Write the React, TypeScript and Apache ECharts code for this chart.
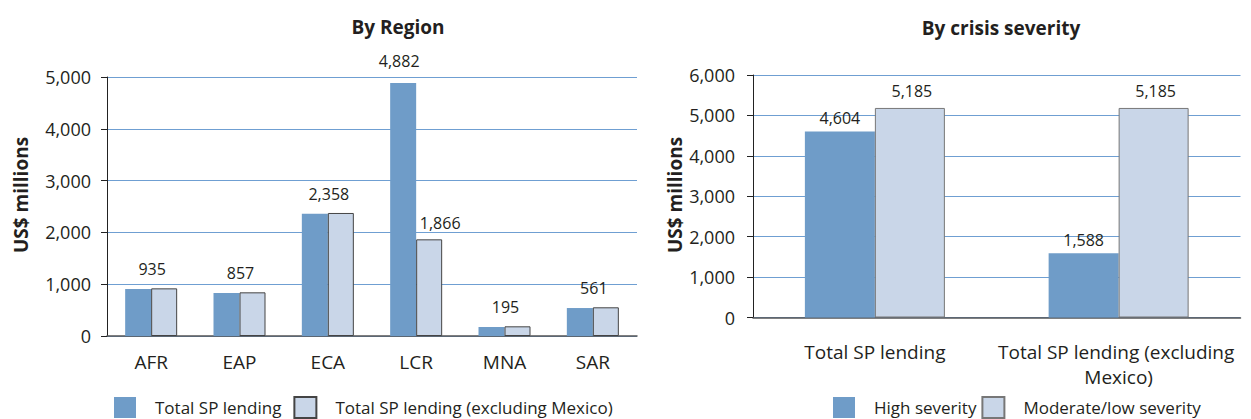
import React, { useEffect, useRef } from "react";
import * as echarts from "echarts";

const regions = ["AFR", "EAP", "ECA", "LCR", "MNA", "SAR"];
const regionTotal = [907, 830, 2358, 4882, 174, 540];
const regionExMexico = [920, 843, 2375, 1866, 187, 554];
// value labels printed above each region pair (null: each bar carries its own label)
const regionPairLabels: (number | null)[] = [935, 857, 2358, null, 195, 561];

const severityCats = ["Total SP lending", "Total SP lending (excluding Mexico)"];
const highSeverity = [4604, 1588];
const moderateSeverity = [5185, 5185];

const leftTicks = { min: 0, max: 5000, interval: 1000 };
const rightTicks = { min: 0, max: 6000, interval: 1000 };

const FONT = "'Open Sans', 'Noto Sans', sans-serif";
const DARK = "#6f9cc8";
const LIGHT = "#c9d6e8";
const GRID = "#6f9fd2";
const TEXT = "#231f20";

const fmt = (v: number) => v.toLocaleString("en-US");

export default function App() {
  const ref = useRef<HTMLDivElement>(null);
  useEffect(() => {
    document.body.style.margin = "0";
    if (!ref.current) return;
    const chart = echarts.init(ref.current, null, { renderer: "svg" });

    const yAxisCommon = (ticks: any, gridIndex: number, margin: number) => ({
      type: "value",
      gridIndex,
      ...ticks,
      axisLine: { show: true, lineStyle: { color: "#222", width: 1 } },
      axisTick: { show: true, length: 6, lineStyle: { color: "#222" } },
      axisLabel: {
        fontFamily: FONT,
        fontSize: 18,
        color: TEXT,
        margin,
        formatter: (v: number) => fmt(v),
      },
      splitLine: { show: true, lineStyle: { color: GRID, width: 1 } },
    });

    const xAxisCommon = (data: string[], gridIndex: number, margin: number, extra: any = {}) => ({
      type: "category",
      gridIndex,
      data,
      axisLine: { show: true, lineStyle: { color: "#555", width: 1.5 } },
      axisTick: { show: false },
      axisLabel: {
        fontFamily: FONT,
        fontSize: 19,
        color: TEXT,
        margin,
        interval: 0,
        lineHeight: 25,
        ...extra,
      },
    });

    const labelStyle = { fontFamily: FONT, fontSize: 16, color: TEXT };
    const legendText = { fontFamily: FONT, fontSize: 17, color: TEXT, padding: [0, 0, 0, 14] };
    const axisName = (x: number) => ({
      type: "text",
      x,
      y: 195,
      rotation: Math.PI / 2,
      style: {
        text: "US$ millions",
        fontFamily: FONT,
        fontSize: 19,
        fontWeight: "bold",
        fill: TEXT,
        align: "center",
        verticalAlign: "middle",
      },
    });

    const option: any = {
      animation: false,
      backgroundColor: "#ffffff",
      textStyle: { fontFamily: FONT },
      title: [
        {
          text: "By Region",
          left: 393,
          top: 12,
          textAlign: "center",
          textStyle: { fontFamily: FONT, fontSize: 19, fontWeight: "bold", color: TEXT },
        },
        {
          text: "By crisis severity",
          left: 996,
          top: 13,
          textAlign: "center",
          textStyle: { fontFamily: FONT, fontSize: 19, fontWeight: "bold", color: TEXT },
        },
      ],
      legend: [
        {
          left: 114,
          top: 396,
          padding: 0,
          itemWidth: 22,
          itemHeight: 21,
          itemGap: 12,
          icon: "rect",
          data: ["Total SP lending", "Total SP lending (excluding Mexico)"],
          textStyle: legendText,
        },
        {
          left: 833,
          top: 396,
          padding: 0,
          itemWidth: 22,
          itemHeight: 21,
          itemGap: 5,
          icon: "rect",
          data: ["High severity", "Moderate/low severity"],
          textStyle: legendText,
        },
      ],
      grid: [
        { left: 107, right: 614, top: 77, bottom: 83 },
        { left: 753, right: 8, top: 75, bottom: 101.5 },
      ],
      xAxis: [
        xAxisCommon(regions, 0, 13),
        xAxisCommon(severityCats, 1, 22, { width: 260, overflow: "break" }),
      ],
      yAxis: [yAxisCommon(leftTicks, 0, 16), yAxisCommon(rightTicks, 1, 18)],
      graphic: [axisName(21), axisName(675)],
      series: [
        {
          name: "Total SP lending",
          type: "bar",
          xAxisIndex: 0,
          yAxisIndex: 0,
          barWidth: 26,
          barGap: "0%",
          itemStyle: { color: DARK },
          data: regionTotal.map((v, i) => ({
            value: v,
            label: {
              show: regionPairLabels[i] === null,
              position: "top",
              offset: [-4, -9],
              ...labelStyle,
              formatter: () => fmt(v),
            },
          })),
        },
        {
          name: "Total SP lending (excluding Mexico)",
          type: "bar",
          xAxisIndex: 0,
          yAxisIndex: 0,
          barWidth: 26,
          barGap: "0%",
          itemStyle: { color: LIGHT, borderColor: "#444", borderWidth: 1 },
          data: regionExMexico.map((v, i) => {
            const pair = regionPairLabels[i];
            return {
              value: v,
              label: {
                show: true,
                position: "top",
                offset: pair === null ? [11, -3] : [-12, -6],
                ...labelStyle,
                formatter: () => fmt(pair === null ? v : pair),
              },
            };
          }),
        },
        {
          name: "High severity",
          type: "bar",
          xAxisIndex: 1,
          yAxisIndex: 1,
          barWidth: 70,
          barGap: "0%",
          itemStyle: { color: DARK },
          label: { show: true, position: "top", ...labelStyle, formatter: (p: any) => fmt(p.value) },
          data: highSeverity,
        },
        {
          name: "Moderate/low severity",
          type: "bar",
          xAxisIndex: 1,
          yAxisIndex: 1,
          barWidth: 70,
          barGap: "0%",
          itemStyle: { color: LIGHT, borderColor: "#777", borderWidth: 1 },
          label: {
            show: true,
            position: "top",
            offset: [2, -4],
            ...labelStyle,
            formatter: (p: any) => fmt(p.value),
          },
          data: moderateSeverity,
        },
      ],
    };

    chart.setOption(option);
    return () => chart.dispose();
  }, []);

  return <div ref={ref} style={{ width: 1251, height: 419 }} />;
}
